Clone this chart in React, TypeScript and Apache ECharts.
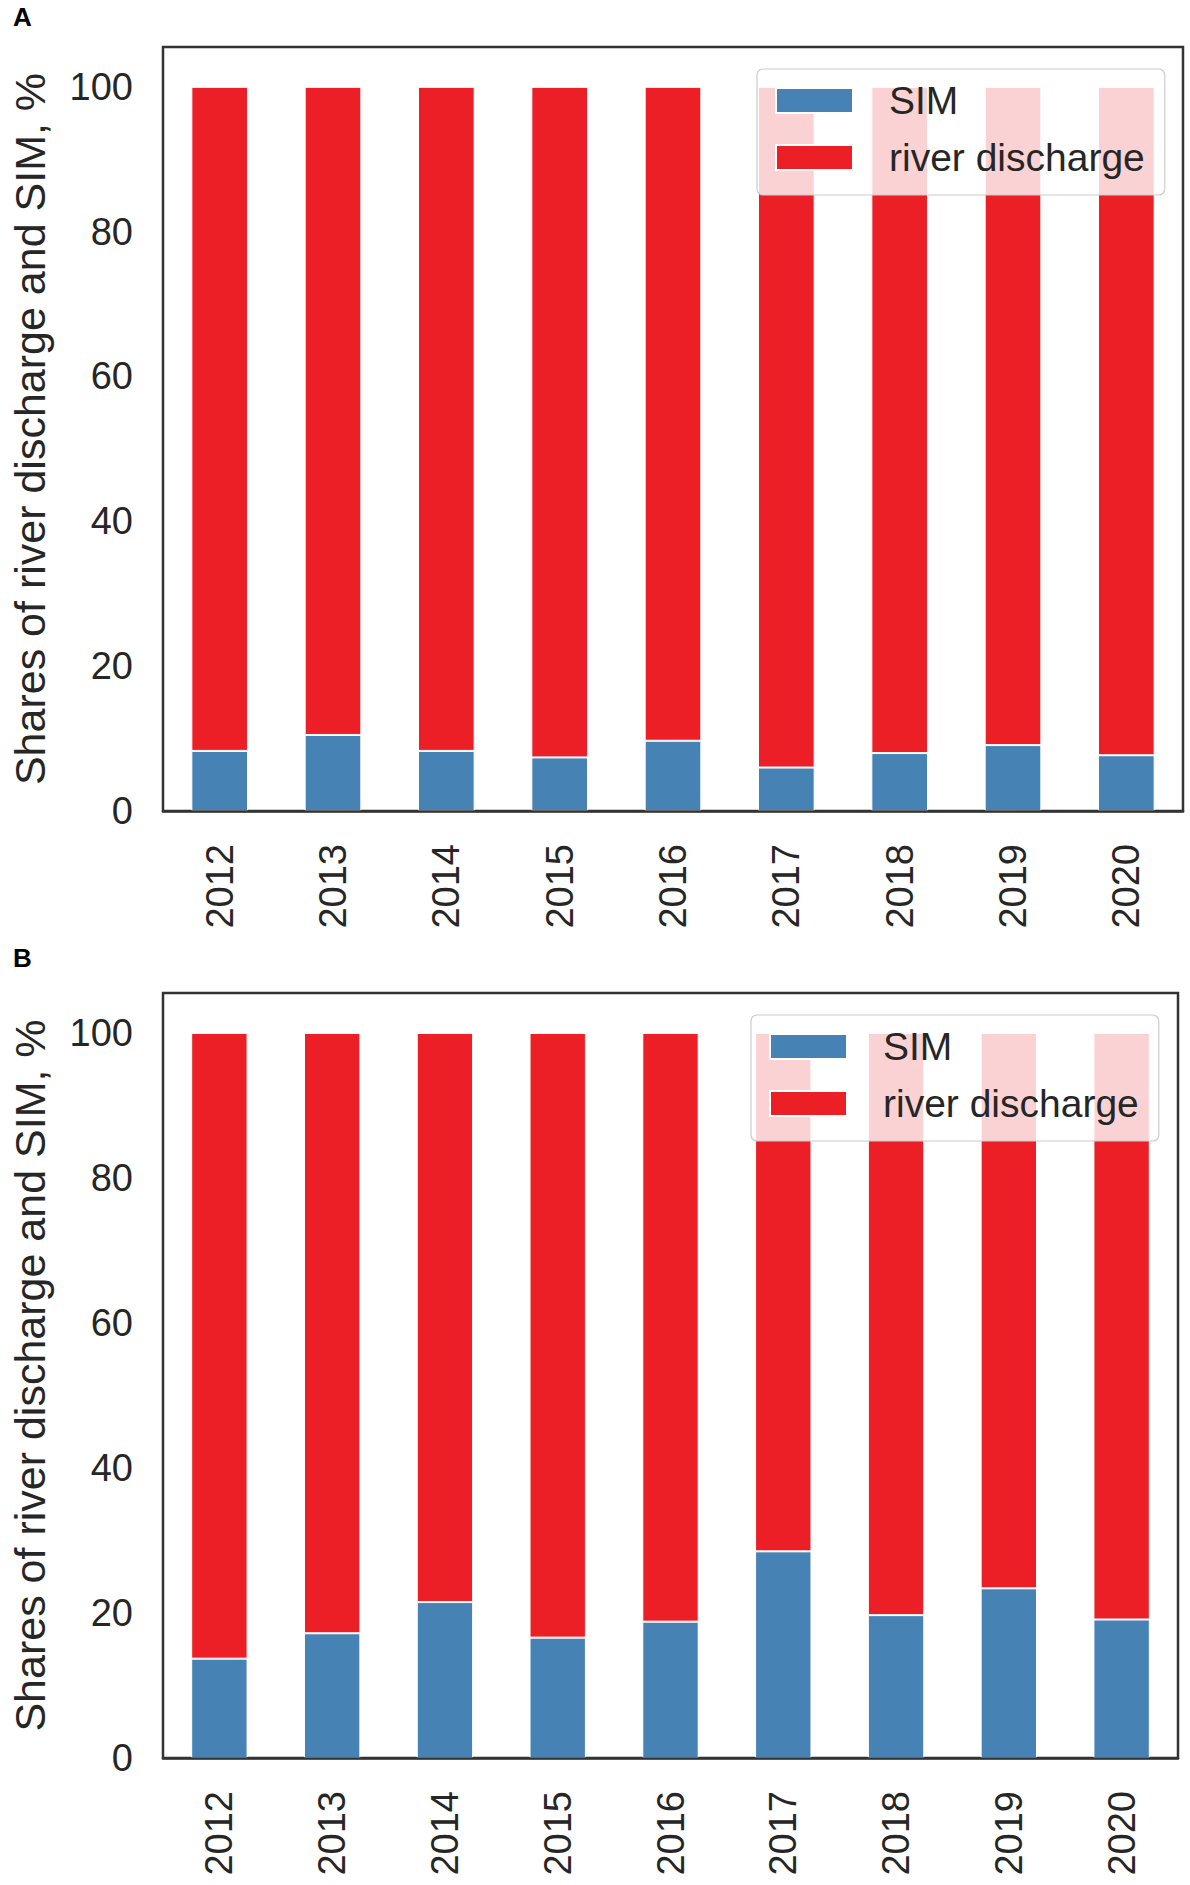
import React, { useEffect, useRef } from "react";
import * as echarts from "echarts";

const years = ["2012", "2013", "2014", "2015", "2016", "2017", "2018", "2019", "2020"];
const simA = [8.3, 10.5, 8.3, 7.4, 9.7, 6.0, 8.0, 9.1, 7.7];
const riverA = [91.7, 89.5, 91.7, 92.6, 90.3, 94.0, 92.0, 90.9, 92.3];
const simB = [13.7, 17.2, 21.5, 16.6, 18.8, 28.5, 19.7, 23.4, 19.1];
const riverB = [86.3, 82.8, 78.5, 83.4, 81.2, 71.5, 80.3, 76.6, 80.9];
const yTicks = [0, 20, 40, 60, 80, 100];
const panelLabels = ["A", "B"];
const yTitle = "Shares of river discharge and SIM, %";
const seriesNames = ["SIM", "river discharge"];

const FONT = "'Liberation Sans', Arial, sans-serif";
const TEXT = "#262626";
const FRAME = "#333333";
const BLUE = "#4682B4";
const RED = "#EC1F26";

export default function App() {
  const ref = useRef<HTMLDivElement>(null);
  useEffect(() => {
    if (!ref.current) return;
    const chart = echarts.init(ref.current, null, { renderer: "svg" });
    const grids = [
      { left: 158, top: 47, width: 1025, height: 764 },
      { left: 152, top: 993, width: 1026, height: 765 },
    ];
    const legendPos = [
      { left: 757, top: 69 },
      { left: 751, top: 1015 },
    ];
    const data = [
      [simA, riverA],
      [simB, riverB],
    ];
    const option: any = {
      animation: false,
      backgroundColor: "#ffffff",
      textStyle: { fontFamily: FONT },
      grid: grids.map((g) => ({
        ...g,
        show: true,
        borderColor: FRAME,
        borderWidth: 2.5,
        backgroundColor: "transparent",
        containLabel: false,
      })),
      xAxis: grids.map((_, i) => ({
        type: "category",
        gridIndex: i,
        data: years,
        z: 10,
        axisLine: { show: true, lineStyle: { color: FRAME, width: 2.5 } },
        axisTick: { show: false },
        axisLabel: {
          rotate: 90,
          margin: 33,
          fontSize: 38,
          color: TEXT,
          fontFamily: FONT,
        },
        splitLine: { show: false },
      })),
      yAxis: grids.map((_, i) => ({
        type: "value",
        gridIndex: i,
        min: 0,
        max: 105.5,
        interval: 20,
        name: yTitle,
        nameLocation: "middle",
        nameRotate: 90,
        nameGap: 112,
        nameTextStyle: { fontSize: 43, color: TEXT, fontFamily: FONT },
        axisLine: { show: false },
        axisTick: { show: false },
        splitLine: { show: false },
        axisLabel: {
          margin: 30,
          fontSize: 38,
          color: TEXT,
          fontFamily: FONT,
          formatter: (v: number) => (yTicks.includes(v) ? String(v) : ""),
        },
      })),
      legend: legendPos.map((p) => ({
        ...p,
        orient: "vertical",
        data: seriesNames.map((n) => ({ name: n })),
        icon: "rect",
        itemWidth: 77,
        itemHeight: 25,
        itemGap: 18,
        padding: [12, 20, 18, 18],
        backgroundColor: "rgba(255,255,255,0.8)",
        borderColor: "#cccccc",
        borderWidth: 1.2,
        borderRadius: 6,
        selectedMode: false,
        textStyle: {
          fontSize: 39,
          lineHeight: 39,
          color: TEXT,
          fontFamily: FONT,
          padding: [0, 0, 0, 31],
        },
      })),
      series: data.flatMap((pair, i) =>
        pair.map((vals, k) => ({
          type: "bar",
          name: seriesNames[k],
          xAxisIndex: i,
          yAxisIndex: i,
          stack: "s" + i,
          barWidth: "50%",
          data: vals,
          itemStyle: {
            color: k === 0 ? BLUE : RED,
            borderColor: "#ffffff",
            borderWidth: 1,
          },
        }))
      ),
      graphic: [
        {
          type: "text",
          left: 13,
          top: 4,
          style: { text: panelLabels[0], fontSize: 26, fontWeight: "bold", fontFamily: FONT, fill: "#000" },
        },
        {
          type: "text",
          left: 13,
          top: 945,
          style: { text: panelLabels[1], fontSize: 26, fontWeight: "bold", fontFamily: FONT, fill: "#000" },
        },
      ],
    };
    chart.setOption(option);
    return () => chart.dispose();
  }, []);
  return (
    <div
      ref={ref}
      style={{ position: "absolute", left: 0, top: 0, width: 1190, height: 1885 }}
    />
  );
}
